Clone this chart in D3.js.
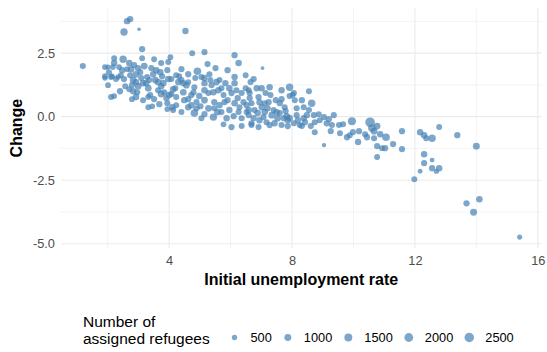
<!DOCTYPE html>
<html>
<head>
<meta charset="utf-8">
<script src="https://cdn.jsdelivr.net/npm/d3@7"></script>
<style>
  body { margin: 0; background: #fff; }
  svg { display: block; font-family: "Liberation Sans", Arial, Helvetica, sans-serif; }
</style>
</head>
<body>
<svg id="chart" width="547" height="352"></svg>
<script>
// Initial unemployment rate (%) per district
const initialRate = [
  1.19,1.91,2.01,2.21,2.21,2.17,1.91,1.91,2.11,2.01,
  2.27,2.34,2.43,2.53,2.50,2.37,2.70,2.63,2.76,2.86,
  3.12,3.12,2.99,3.06,2.92,2.73,2.83,2.92,3.09,3.15,
  2.99,2.79,2.70,2.83,2.96,2.79,2.92,2.11,2.21,3.32,
  3.45,3.28,3.25,3.32,3.38,3.32,3.51,3.42,3.48,3.55,
  3.74,3.71,3.77,3.64,3.74,3.64,3.74,3.84,3.97,3.94,
  4.04,3.91,3.94,3.94,3.51,3.97,3.81,2.14,2.63,2.73,
  2.53,3.02,4.53,4.75,5.15,6.13,6.26,5.25,4.40,4.62,
  4.92,5.31,5.15,4.85,4.23,4.30,4.07,4.46,4.62,5.15,
  5.38,5.54,5.83,6.13,6.19,5.96,4.13,4.46,4.23,4.79,
  4.82,5.15,5.28,5.60,5.77,6.03,6.36,6.59,4.49,4.89,
  5.15,5.47,5.64,5.80,6.13,6.42,6.62,4.23,4.62,4.89,
  5.28,5.47,4.13,4.82,4.40,5.15,5.44,5.70,5.96,6.26,
  6.52,5.87,6.36,5.77,6.03,6.36,6.59,6.68,4.33,4.40,
  4.62,4.07,4.10,5.02,5.34,6.13,5.70,
  7.04,6.75,6.65,6.85,6.62,7.27,7.14,6.91,7.66,7.92,
  8.06,8.55,7.66,6.68,6.94,7.24,7.30,7.60,7.92,8.09,
  8.32,8.64,8.38,8.55,6.52,6.59,6.78,7.01,7.11,7.40,
  7.50,7.34,7.60,7.83,7.92,7.73,8.15,8.38,8.71,8.87,
  9.04,9.20,9.36,6.75,6.94,7.17,6.68,6.91,7.27,7.43,
  7.66,7.86,8.06,8.25,8.42,8.74,9.13,9.30,8.74,9.26,
  9.56,9.04,8.32,8.19,7.76,8.02,7.11,
  9.53,9.66,9.79,9.95,9.98,10.15,10.18,10.38,10.44,10.54,
  10.60,10.77,10.67,10.67,10.87,11.06,10.77,10.93,11.03,11.29,
  10.77,11.58,11.58,12.17,12.30,12.37,12.56,12.79,13.38,14.00,
  12.30,12.30,12.56,12.17,12.56,12.70,12.79,11.98,13.68,14.10,
  13.91,15.41,9.88,
  2.04,2.47,2.57,2.40,3.19,3.35,3.58,3.15,3.68,4.00,
  4.20,4.56,4.72,4.98,5.05,5.44,5.64,5.90,6.23,6.49,
  5.57,6.10,6.29,4.72,5.05,6.88,7.07,7.53,7.79,8.15,
  8.48,8.90,8.61,7.86,7.20,7.47,7.01,6.49,5.90,5.51
];

// Change in the unemployment rate (percentage points)
const change = [
  1.99,1.95,1.95,2.30,2.11,1.95,1.59,1.52,1.56,1.24,
  1.48,1.56,1.63,1.48,2.26,1.95,2.11,1.87,1.87,2.03,
  2.30,2.66,1.91,1.75,1.67,1.63,1.44,1.36,1.52,1.32,
  1.20,1.24,1.08,1.00,0.96,0.69,0.77,0.77,0.81,0.37,
  0.41,1.56,1.32,1.12,0.85,0.77,2.26,1.91,1.67,1.44,
  2.11,1.75,1.59,1.36,1.20,1.04,0.89,0.96,2.15,1.83,
  2.34,0.73,0.53,0.30,0.69,1.48,1.32,1.59,3.76,3.84,
  3.33,3.44,3.37,2.50,2.54,2.42,2.11,2.07,1.87,1.67,
  1.79,1.67,1.52,1.52,1.63,1.36,1.48,1.32,1.36,1.32,
  1.24,1.36,1.32,1.32,1.04,1.12,1.08,0.96,0.77,0.96,
  1.16,1.04,0.93,1.04,0.85,0.93,0.93,1.04,0.65,0.57,
  0.65,0.57,0.45,0.57,0.53,0.57,0.73,0.45,0.37,0.33,
  0.33,0.33,0.26,0.14,0.18,0.10,-0.02,0.18,0.26,0.18,
  0.18,-0.06,-0.06,-0.30,-0.41,-0.37,0.06,-0.26,1.59,1.44,
  0.69,0.89,0.37,0.41,1.44,1.56,1.12,
  1.91,1.48,1.36,1.12,0.93,1.16,0.93,0.77,1.04,1.16,
  0.93,1.00,0.69,0.53,0.57,0.57,0.85,0.53,0.81,0.65,
  0.65,0.53,0.37,0.26,0.45,0.26,0.26,0.37,0.18,0.26,
  0.18,0.06,0.14,0.02,-0.06,-0.06,0.06,-0.06,0.06,0.10,
  -0.02,-0.10,0.06,-0.06,-0.14,-0.22,-0.33,-0.41,-0.33,-0.26,
  -0.33,-0.14,-0.26,-0.33,-0.22,-0.22,-0.26,-0.33,-0.61,-0.57,
  -0.65,-1.12,-0.37,-0.14,0.37,0.85,0.53,
  -0.33,-0.30,-0.81,-0.18,-0.61,-1.00,-0.57,-0.69,-0.81,-0.22,
  -0.45,-0.37,-0.57,-0.85,-0.69,-0.81,-1.16,-1.24,-1.24,-1.08,
  -1.59,-0.57,-1.28,-0.61,-0.73,-0.85,-0.85,-0.41,-0.73,-1.16,
  -1.48,-1.83,-1.71,-2.15,-2.03,-2.15,-2.03,-2.46,-3.41,-3.25,
  -3.76,-4.74,-0.73,
  1.75,1.83,1.20,1.00,1.99,1.44,1.83,0.65,0.49,0.85,
  1.12,1.24,0.85,0.81,1.56,0.96,1.44,0.65,0.73,1.12,
  0.18,0.02,0.37,0.45,-0.06,0.14,-0.02,-0.06,0.22,0.33,
  0.06,-0.14,-0.37,-0.37,0.33,0.65,1.12,1.63,1.83,1.91
];

// Number of assigned refugees per district
const refugees = [
  700,600,500,650,800,550,600,500,700,600,
  650,500,600,750,1200,600,800,550,900,700,
  600,750,800,650,900,700,1000,800,700,850,
  900,750,650,800,700,600,850,650,600,600,
  550,700,800,900,750,650,600,700,800,900,
  700,850,750,900,800,700,1000,750,650,700,
  600,800,700,600,700,800,850,550,800,800,
  1200,300,800,650,700,750,850,700,700,750,
  1300,700,800,650,700,850,700,750,650,800,
  700,900,750,800,700,850,800,900,700,750,
  700,850,700,800,650,750,700,650,800,700,
  900,750,800,700,850,700,750,650,800,750,
  900,700,700,1300,650,750,1100,700,800,700,
  650,800,700,600,750,650,700,750,600,700,
  750,700,800,700,650,800,700,
  300,750,700,800,700,850,700,750,800,1200,
  700,650,750,700,800,700,650,750,700,650,
  750,1200,650,700,750,800,700,750,850,700,
  800,900,700,850,900,750,700,750,700,650,
  700,750,700,750,800,700,650,700,750,800,
  700,850,700,650,750,700,750,700,650,700,
  650,350,700,750,700,650,700,
  700,700,750,1500,700,800,750,700,750,2550,
  1300,900,1000,700,800,1300,700,600,750,750,
  650,750,700,800,850,700,1200,650,750,1000,
  800,700,400,400,750,450,800,650,750,850,
  1000,450,650,
  700,800,650,750,900,700,800,650,750,850,
  700,900,750,800,700,850,650,750,800,700,
  900,750,700,800,650,850,700,900,750,700,
  800,650,700,750,850,700,800,650,750,700
];

const xTicks = [4, 8, 12, 16];
const xMinor = [2, 6, 10, 14];
const yTicks = [2.5, 0, -2.5, -5];
const yMinor = [3.75, 1.25, -1.25, -3.75];
const sizeBreaks = [500, 1000, 1500, 2000, 2500];

const points = initialRate.map((r, i) => ({ rate: r, change: change[i], n: refugees[i] }));

const svg = d3.select("#chart");
const panel = { left: 61, right: 541.5, top: 8.2, bottom: 248 };
const pointColor = "steelblue";
const pointAlpha = 0.7;

// 5% padding on each side of the data range
const expand = ext => { const d = (ext[1] - ext[0]) * 0.05; return [ext[0] - d, ext[1] + d]; };

const x = d3.scaleLinear().domain(expand(d3.extent(initialRate))).range([panel.left, panel.right]);
const y = d3.scaleLinear().domain(expand(d3.extent(change))).range([panel.bottom, panel.top]);

// Point diameter grows with the square root of the rescaled count
const sizeNorm = d3.scaleLinear().domain(d3.extent(refugees)).range([0, 1]);
const diam = d3.scaleSqrt().domain([0, 1]).range([3.6, 9.6]);
const radius = v => diam(Math.max(0, sizeNorm(v))) / 2;

// Grid
const grid = svg.append("g").attr("stroke", "#EBEBEB").attr("fill", "none");
grid.selectAll(".xminor").data(xMinor).join("line")
  .attr("x1", d => x(d)).attr("x2", d => x(d)).attr("y1", panel.top).attr("y2", panel.bottom)
  .attr("stroke-width", 0.6);
grid.selectAll(".yminor").data(yMinor).join("line")
  .attr("x1", panel.left).attr("x2", panel.right).attr("y1", d => y(d)).attr("y2", d => y(d))
  .attr("stroke-width", 0.6);
grid.selectAll(".xmajor").data(xTicks).join("line")
  .attr("x1", d => x(d)).attr("x2", d => x(d)).attr("y1", panel.top).attr("y2", panel.bottom)
  .attr("stroke-width", 1.1);
grid.selectAll(".ymajor").data(yTicks).join("line")
  .attr("x1", panel.left).attr("x2", panel.right).attr("y1", d => y(d)).attr("y2", d => y(d))
  .attr("stroke-width", 1.1);

// Points
svg.append("g").selectAll("circle").data(points).join("circle")
  .attr("cx", d => x(d.rate))
  .attr("cy", d => y(d.change))
  .attr("r", d => radius(d.n))
  .attr("fill", pointColor)
  .attr("fill-opacity", pointAlpha);

// Axes
const xAxis = svg.append("g").attr("transform", `translate(0,${panel.bottom})`)
  .call(d3.axisBottom(x).tickValues(xTicks).tickSize(0).tickPadding(8).tickFormat(d => String(d)));
const yAxis = svg.append("g").attr("transform", `translate(${panel.left},0)`)
  .call(d3.axisLeft(y).tickValues(yTicks).tickSize(0).tickPadding(6).tickFormat(d => d.toFixed(1)));
[xAxis, yAxis].forEach(a => {
  a.select(".domain").remove();
  a.selectAll("text").attr("fill", "#4D4D4D").style("font-size", "12.8px")
    .style("font-family", "'Liberation Sans', Arial, sans-serif");
});

// Axis titles
svg.append("text")
  .attr("x", (panel.left + panel.right) / 2).attr("y", 284.5)
  .attr("text-anchor", "middle").style("font-size", "16px").style("font-weight", "bold")
  .text("Initial unemployment rate");
svg.append("text")
  .attr("transform", `translate(22,${(panel.top + panel.bottom) / 2}) rotate(-90)`)
  .attr("text-anchor", "middle").style("font-size", "16px").style("font-weight", "bold")
  .text("Change");

// Size legend
const legend = svg.append("g");
legend.append("text").attr("x", 83).attr("y", 326.8).style("font-size", "15.5px").text("Number of");
legend.append("text").attr("x", 83).attr("y", 344.3).style("font-size", "15.5px").text("assigned refugees");

let cx = 234.5;
const keyY = 337.5;
sizeBreaks.forEach(b => {
  legend.append("circle").attr("cx", cx).attr("cy", keyY).attr("r", radius(b))
    .attr("fill", pointColor).attr("fill-opacity", pointAlpha);
  const t = legend.append("text").attr("x", cx + 16).attr("y", keyY + 4.5)
    .style("font-size", "12.8px").text(b);
  cx += 16 + t.node().getComputedTextLength() + 16;
});
</script>
</body>
</html>
